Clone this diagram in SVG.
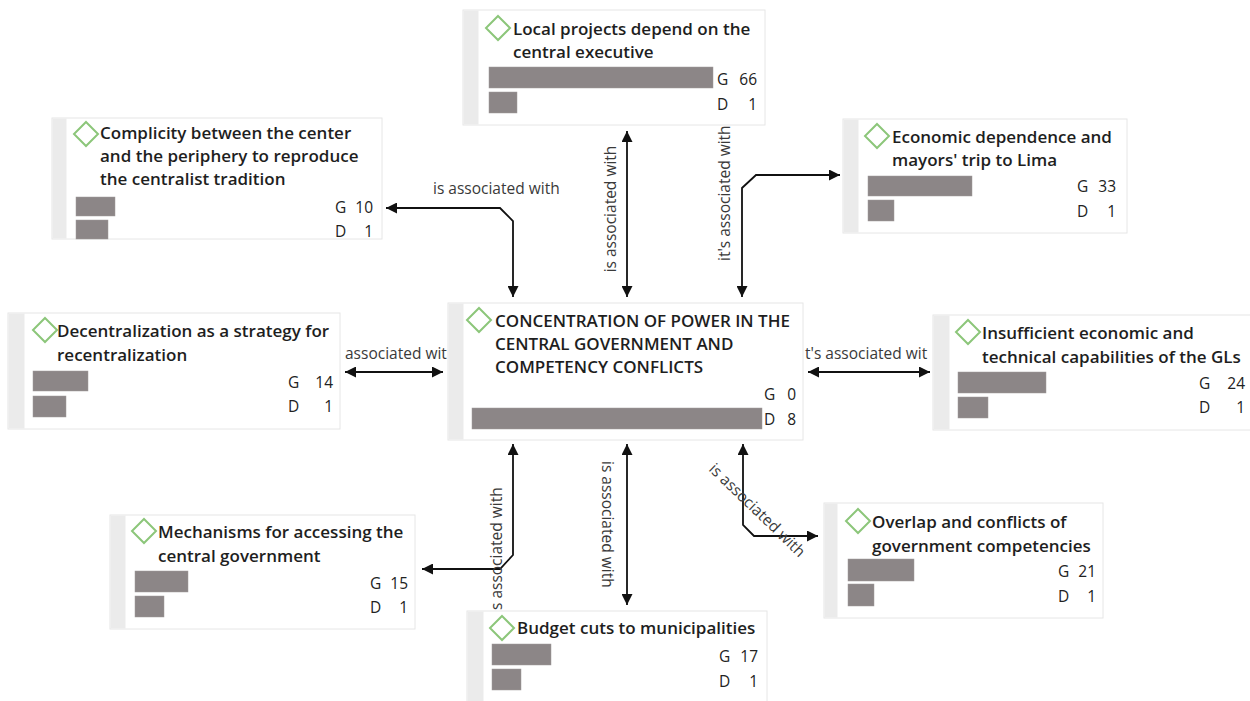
<svg xmlns="http://www.w3.org/2000/svg" width="1250" height="701" viewBox="0 0 1250 701">
  <style>
    .box { fill: #ffffff; stroke: #e6e6e6; stroke-width: 1; }
    .strip { fill: #ebebeb; }
    .mark { fill: none; stroke: #8cc67a; stroke-width: 2; }
    .title { font-family: "Open Sans", "Liberation Sans", sans-serif; font-weight: 600; font-size: 17px; fill: #1e1e1e; }
    .bar { fill: #8c8687; stroke: #a09a9b; stroke-width: 0.5; }
    .cnt { font-family: "Open Sans", "Liberation Sans", sans-serif; font-size: 15.5px; fill: #222; }
    .num { text-anchor: end; }
    .link { fill: none; stroke: #111; stroke-width: 1.8; }
    .lbl { font-family: "Open Sans", "Liberation Sans", sans-serif; font-size: 15.5px; fill: #3a3a3a; }
  </style>
  <defs>
    <marker id="head" viewBox="0 0 10 10" refX="10" refY="5" markerWidth="11" markerHeight="11" markerUnits="userSpaceOnUse" orient="auto-start-reverse">
      <path d="M0,0 L10,5 L0,10 z" fill="#111"/>
    </marker>
  </defs>

  <!-- connectors between the central concept and its neighbours -->
  <g id="connectors">
    <path class="link" d="M386,208 L500,208 L513,221 L513,297" marker-start="url(#head)" marker-end="url(#head)"/>
    <text class="lbl" x="433" y="194">is associated with</text>

    <path class="link" d="M627,131 L627,297" marker-start="url(#head)" marker-end="url(#head)"/>
    <text class="lbl" transform="translate(616,209) rotate(-90)" text-anchor="middle">is associated with</text>

    <path class="link" d="M742,297 L742,188 L756,175 L840,175" marker-start="url(#head)" marker-end="url(#head)"/>
    <text class="lbl" transform="translate(730,261) rotate(-90)">it's associated with</text>

    <path class="link" d="M345,372 L443,372" marker-start="url(#head)" marker-end="url(#head)"/>
    <text class="lbl" x="345" y="359">associated wit</text>

    <path class="link" d="M808,372 L930,372" marker-start="url(#head)" marker-end="url(#head)"/>
    <text class="lbl" x="805" y="359">t's associated wit</text>

    <path class="link" d="M513,444 L513,555 L500,569 L422,569" marker-start="url(#head)" marker-end="url(#head)"/>
    <text class="lbl" transform="translate(502,610) rotate(-90)">s associated with</text>

    <path class="link" d="M627,444 L627,605" marker-start="url(#head)" marker-end="url(#head)"/>
    <text class="lbl" transform="translate(602,461) rotate(90)">is associated with</text>

    <path class="link" d="M743,444 L743,525 L754,536 L818,536" marker-start="url(#head)" marker-end="url(#head)"/>
    <text class="lbl" transform="translate(708,470) rotate(44)">is associated with</text>
  </g>

  <!-- nodes -->
  <g id="node-local-projects">
    <rect class="box" x="463" y="10" width="302" height="115"/>
    <rect class="strip" x="463.5" y="10.5" width="15" height="114"/>
    <path class="mark" d="M498,16 L510,28 L498,40 L486,28 z"/>
    <text class="title" x="513" y="35">Local projects depend on the<tspan x="513" y="58">central executive</tspan></text>
    <rect class="bar" x="489" y="67" width="224" height="21"/>
    <rect class="bar" x="489" y="92" width="28" height="21"/>
    <text class="cnt" x="717" y="85">G</text><text class="cnt num" x="757" y="85">66</text>
    <text class="cnt" x="717" y="110">D</text><text class="cnt num" x="757" y="110">1</text>
  </g>

  <g id="node-complicity">
    <rect class="box" x="52" y="118" width="330" height="121"/>
    <rect class="strip" x="52.5" y="118.5" width="14" height="120"/>
    <path class="mark" d="M86,122 L98,134 L86,146 L74,134 z"/>
    <text class="title" x="100" y="139">Complicity between the center<tspan x="100" y="162">and the periphery to reproduce</tspan><tspan x="100" y="185">the centralist tradition</tspan></text>
    <rect class="bar" x="76" y="197" width="39" height="19"/>
    <rect class="bar" x="76" y="220" width="32" height="19"/>
    <text class="cnt" x="335" y="213">G</text><text class="cnt num" x="373" y="213">10</text>
    <text class="cnt" x="335" y="237">D</text><text class="cnt num" x="373" y="237">1</text>
  </g>

  <g id="node-economic-dependence">
    <rect class="box" x="843" y="119" width="284" height="114"/>
    <rect class="strip" x="843.5" y="119.5" width="15" height="113"/>
    <path class="mark" d="M877,124 L889,136 L877,148 L865,136 z"/>
    <text class="title" x="892" y="143">Economic dependence and<tspan x="892" y="166">mayors' trip to Lima</tspan></text>
    <rect class="bar" x="868" y="176" width="104" height="20"/>
    <rect class="bar" x="868" y="200" width="26" height="21"/>
    <text class="cnt" x="1077" y="192">G</text><text class="cnt num" x="1116" y="192">33</text>
    <text class="cnt" x="1077" y="217">D</text><text class="cnt num" x="1116" y="217">1</text>
  </g>

  <g id="node-concentration">
    <rect class="box" x="448" y="303" width="355" height="137"/>
    <rect class="strip" x="448.5" y="303.5" width="15" height="136"/>
    <path class="mark" d="M479,308 L491,320 L479,332 L467,320 z"/>
    <text class="title" x="495" y="327">CONCENTRATION OF POWER IN THE<tspan x="495" y="350">CENTRAL GOVERNMENT AND</tspan><tspan x="495" y="373">COMPETENCY CONFLICTS</tspan></text>
    <rect class="bar" x="472" y="408" width="290" height="21"/>
    <text class="cnt" x="764" y="400">G</text><text class="cnt num" x="796" y="400">0</text>
    <text class="cnt" x="764" y="425">D</text><text class="cnt num" x="796" y="425">8</text>
  </g>

  <g id="node-decentralization">
    <rect class="box" x="8" y="313" width="332" height="116"/>
    <rect class="strip" x="8.5" y="313.5" width="16" height="115"/>
    <path class="mark" d="M45,318 L57,330 L45,342 L33,330 z"/>
    <text class="title" x="57" y="337">Decentralization as a strategy for<tspan x="57" y="361">recentralization</tspan></text>
    <rect class="bar" x="33" y="371" width="55" height="20"/>
    <rect class="bar" x="33" y="396" width="33" height="21"/>
    <text class="cnt" x="288" y="388">G</text><text class="cnt num" x="333" y="388">14</text>
    <text class="cnt" x="288" y="412">D</text><text class="cnt num" x="333" y="412">1</text>
  </g>

  <g id="node-insufficient-capabilities">
    <rect class="box" x="933" y="315" width="320" height="115"/>
    <rect class="strip" x="933.5" y="315.5" width="16" height="114"/>
    <path class="mark" d="M968,320 L980,332 L968,344 L956,332 z"/>
    <text class="title" x="982" y="339">Insufficient economic and<tspan x="982" y="363">technical capabilities of the GLs</tspan></text>
    <rect class="bar" x="958" y="372" width="88" height="21"/>
    <rect class="bar" x="958" y="397" width="30" height="21"/>
    <text class="cnt" x="1199" y="389">G</text><text class="cnt num" x="1245" y="389">24</text>
    <text class="cnt" x="1199" y="413">D</text><text class="cnt num" x="1245" y="413">1</text>
  </g>

  <g id="node-mechanisms">
    <rect class="box" x="110" y="515" width="305" height="114"/>
    <rect class="strip" x="110.5" y="515.5" width="15" height="113"/>
    <path class="mark" d="M144,519 L156,531 L144,543 L132,531 z"/>
    <text class="title" x="158" y="538">Mechanisms for accessing the<tspan x="158" y="562">central government</tspan></text>
    <rect class="bar" x="135" y="571" width="53" height="21"/>
    <rect class="bar" x="135" y="596" width="29" height="21"/>
    <text class="cnt" x="370" y="589">G</text><text class="cnt num" x="408" y="589">15</text>
    <text class="cnt" x="370" y="613">D</text><text class="cnt num" x="408" y="613">1</text>
  </g>

  <g id="node-budget-cuts">
    <rect class="box" x="467" y="611" width="300" height="95"/>
    <rect class="strip" x="467.5" y="611.5" width="16" height="94"/>
    <path class="mark" d="M502,616 L514,628 L502,640 L490,628 z"/>
    <text class="title" x="517" y="634">Budget cuts to municipalities</text>
    <rect class="bar" x="492" y="644" width="59" height="21"/>
    <rect class="bar" x="492" y="669" width="29" height="21"/>
    <text class="cnt" x="719" y="662">G</text><text class="cnt num" x="758" y="662">17</text>
    <text class="cnt" x="719" y="687">D</text><text class="cnt num" x="758" y="687">1</text>
  </g>

  <g id="node-overlap">
    <rect class="box" x="824" y="503" width="279" height="115"/>
    <rect class="strip" x="824.5" y="503.5" width="13" height="114"/>
    <path class="mark" d="M858,509 L870,521 L858,533 L846,521 z"/>
    <text class="title" x="872" y="528">Overlap and conflicts of<tspan x="872" y="552">government competencies</tspan></text>
    <rect class="bar" x="848" y="559" width="66" height="22"/>
    <rect class="bar" x="848" y="584" width="26" height="22"/>
    <text class="cnt" x="1058" y="577">G</text><text class="cnt num" x="1096" y="577">21</text>
    <text class="cnt" x="1058" y="602">D</text><text class="cnt num" x="1096" y="602">1</text>
  </g>
</svg>
